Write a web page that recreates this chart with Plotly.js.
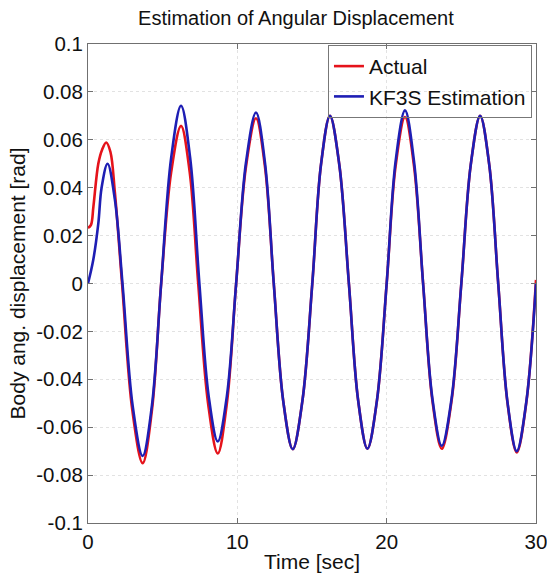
<!DOCTYPE html>
<html>
<head>
<meta charset="utf-8">
<script src="https://cdn.plot.ly/plotly-3.0.1.min.js"></script>
<style>html,body{margin:0;padding:0;background:#fff;}#chart{width:547px;height:578px;}</style>
</head>
<body>
<div id="chart"></div>
<script>
// Actual (red) series
const tActual = [0, 0.2, 0.36, 0.69, 0.95, 1.22, 1.5, 1.8, 2.28, 2.97, 3.66, 4.28, 4.9, 5.57, 6.23, 6.81, 7.38, 8.04, 8.69, 9.3, 9.92, 10.58, 11.25, 11.85, 12.44, 13.07, 13.71, 14.36, 15.02, 15.6, 16.2, 16.83, 17.47, 18.09, 18.71, 19.35, 20.0, 20.6, 21.23, 21.83, 22.44, 23.06, 23.69, 24.35, 25.0, 25.63, 26.26, 26.87, 27.47, 28.09, 28.71, 29.35, 30.0];
const yActual = [0.0232, 0.0245, 0.032, 0.050, 0.056, 0.0589, 0.055, 0.038, 0.0, -0.053, -0.075, -0.053, 0.0, 0.0465, 0.0658, 0.0465, 0.0, -0.050, -0.071, -0.050, 0.0, 0.0488, 0.069, 0.0488, 0.0, -0.0489, -0.0692, -0.0489, 0.0, 0.0495, 0.070, 0.0495, 0.0, -0.0488, -0.069, -0.0488, 0.0, 0.0491, 0.0695, 0.0491, 0.0, -0.0488, -0.069, -0.0488, 0.0, 0.0495, 0.070, 0.0495, 0.0, -0.0498, -0.0705, -0.0498, 0.0015];

// KF3S Estimation (blue) series
const tKF3S = [0, 0.35, 0.69, 0.91, 1.31, 1.8, 2.31, 2.99, 3.66, 4.28, 4.9, 5.57, 6.23, 6.84, 7.46, 8.08, 8.69, 9.3, 9.92, 10.58, 11.25, 11.85, 12.44, 13.07, 13.71, 14.36, 15.02, 15.6, 16.2, 16.83, 17.47, 18.09, 18.71, 19.35, 20.0, 20.6, 21.23, 21.83, 22.44, 23.06, 23.69, 24.35, 25.0, 25.63, 26.26, 26.87, 27.47, 28.09, 28.71, 29.35, 30.0];
const yKF3S = [0.0, 0.0098, 0.025, 0.040, 0.050, 0.035, 0.0, -0.051, -0.072, -0.051, 0.0, 0.0525, 0.0742, 0.0525, 0.0, -0.047, -0.066, -0.047, 0.0, 0.0505, 0.0714, 0.0505, 0.0, -0.0489, -0.0692, -0.0489, 0.0, 0.0495, 0.070, 0.0495, 0.0, -0.0488, -0.069, -0.0488, 0.0, 0.0511, 0.0723, 0.0511, 0.0, -0.0479, -0.0678, -0.0479, 0.0, 0.0495, 0.070, 0.0495, 0.0, -0.0495, -0.070, -0.0495, 0.0];

// Tick labels
const xTickVals = [0, 10, 20, 30];
const xTickText = ["0", "10", "20", "30"];
const yTickVals = [0.1, 0.08, 0.06, 0.04, 0.02, 0, -0.02, -0.04, -0.06, -0.08, -0.1];
const yTickText = ["0.1", "0.08", "0.06", "0.04", "0.02", "0", "-0.02", "-0.04", "-0.06", "-0.08", "-0.1"];

const FONT = '"Liberation Sans", Arial, Helvetica, sans-serif';

const traces = [
  {x: tActual, y: yActual, type: 'scatter', mode: 'lines', name: 'Actual',
   line: {color: '#e5131b', width: 2.6, shape: 'spline', smoothing: 1}},
  {x: tKF3S, y: yKF3S, type: 'scatter', mode: 'lines', name: 'KF3S Estimation',
   line: {color: '#1e1eb4', width: 2.6, shape: 'spline', smoothing: 1}}
];

const axisCommon = {
  showline: true, mirror: 'ticks', linecolor: '#707070', linewidth: 1,
  ticks: 'inside', ticklen: 5, tickcolor: '#707070',
  showgrid: true, gridcolor: '#e2e2e2', griddash: 'dot', gridwidth: 1,
  zeroline: false, ticklabeloverflow: 'allow',
  tickfont: {family: FONT, size: 20.5, color: '#111'}
};

const layout = {
  width: 547, height: 578,
  margin: {l: 88, r: 11, t: 44, b: 55},
  paper_bgcolor: '#fff', plot_bgcolor: '#fff',
  font: {family: FONT, color: '#111'},
  title: {text: 'Estimation of Angular Displacement', font: {family: FONT, size: 20, color: '#111'},
          x: 0.541, xanchor: 'center', y: 0.968, yanchor: 'middle'},
  xaxis: Object.assign({}, axisCommon, {
    range: [0, 30], tickvals: xTickVals, ticktext: xTickText,
    title: {text: 'Time [sec]', font: {family: FONT, size: 21, color: '#111'}, standoff: 2}
  }),
  yaxis: Object.assign({}, axisCommon, {
    range: [-0.1, 0.1], tickvals: yTickVals, ticktext: yTickText,
    title: {text: 'Body ang. displacement [rad]', font: {family: FONT, size: 21, color: '#111'}, standoff: 4}
  }),
  showlegend: true,
  legend: {x: 0.991, xanchor: 'right', y: 0.998, yanchor: 'top',
           bgcolor: 'rgba(255,255,255,0)', bordercolor: '#777', borderwidth: 1,
           font: {family: FONT, size: 21, color: '#111'}, tracegroupgap: 0}
};

Plotly.newPlot('chart', traces, layout, {staticPlot: true, displayModeBar: false});
</script>
</body>
</html>
